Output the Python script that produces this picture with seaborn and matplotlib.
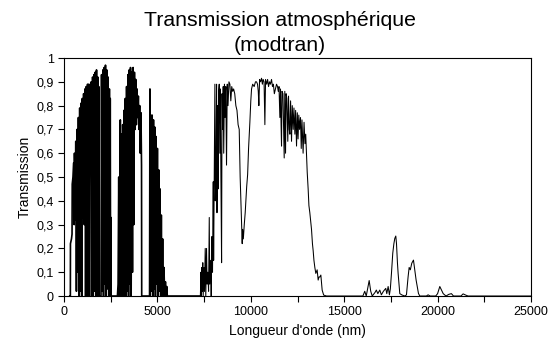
import numpy as np
import matplotlib
matplotlib.use("Agg")
import matplotlib.pyplot as plt
import seaborn as sns
import pandas as pd

# -----------------------------
# Data (wavelength in nm / transmission)
# -----------------------------
# UV - visible - near IR, up to the 1.9 um water band
nm_vnir = [300, 330, 340, 345, 400, 430, 440, 480, 520, 545,
           560, 595, 630, 665, 700, 735, 770, 805, 840, 875,
           910, 945, 980, 1015, 1050, 1085, 1120, 1155, 1190, 1225,
           1260, 1295, 1330, 1365, 1400, 1430, 1460, 1495, 1530, 1565,
           1600, 1635, 1670, 1705, 1740, 1775, 1810, 1840, 1860, 1880,
           1980]
t_vnir = [0.0, 0.0, 0.0, 0.22, 0.24, 0.26, 0.47, 0.50, 0.56, 0.30,
          0.60, 0.32, 0.65, 0.02, 0.70, 0.10, 0.75, 0.0, 0.79, 0.02,
          0.81, 0.0, 0.83, 0.33, 0.85, 0.30, 0.87, 0.0, 0.88, 0.0,
          0.89, 0.0, 0.89, 0.0, 0.86, 0.74, 0.90, 0.0, 0.92, 0.0,
          0.93, 0.02, 0.94, 0.0, 0.95, 0.0, 0.92, 0.0, 0.88, 0.0,
          0.0]

# 2.0 - 2.5 um window
nm_swir = [2010, 2045, 2080, 2115, 2150, 2185, 2220, 2255, 2290, 2325,
           2360, 2395, 2430, 2460, 2475, 2495, 2510, 2525, 2840]
t_swir = [0.93, 0.02, 0.95, 0.0, 0.96, 0.05, 0.97, 0.0, 0.95, 0.03,
          0.92, 0.0, 0.87, 0.0, 0.83, 0.0, 0.33, 0.0, 0.0]

# 3 - 4.2 um window
nm_mwir = [2860, 2895, 2930, 2965, 3000, 3015, 3035, 3070, 3105, 3140,
           3175, 3210, 3245, 3280, 3315, 3350, 3385, 3420, 3455, 3490,
           3525, 3560, 3595, 3630, 3665, 3700, 3735, 3770, 3805, 3840,
           3875, 3910, 3945, 3980, 4015, 4050, 4085, 4120, 4150, 4160,
           4580]
t_mwir = [0.0, 0.05, 0.50, 0.0, 0.66, 0.74, 0.0, 0.68, 0.0, 0.72,
          0.0, 0.78, 0.0, 0.83, 0.0, 0.88, 0.02, 0.93, 0.0, 0.95,
          0.05, 0.96, 0.0, 0.94, 0.10, 0.96, 0.30, 0.94, 0.70, 0.91,
          0.72, 0.87, 0.75, 0.84, 0.70, 0.80, 0.60, 0.77, 0.55, 0.0,
          0.0]

# 4.5 - 5.5 um
nm_co2 = [4600, 4620, 4650, 4685, 4720, 4755, 4790, 4825, 4860, 4895,
          4930, 4965, 5000, 5035, 5070, 5105, 5140, 5175, 5210, 5245,
          5280, 5315, 5350, 5390, 5430, 5470, 5500, 5530, 7280]
t_co2 = [0.87, 0.0, 0.76, 0.02, 0.76, 0.0, 0.74, 0.03, 0.71, 0.0,
         0.67, 0.05, 0.62, 0.0, 0.53, 0.02, 0.45, 0.0, 0.34, 0.0,
         0.24, 0.0, 0.12, 0.0, 0.06, 0.0, 0.04, 0.0, 0.0]

# 8 - 14 um thermal window
nm_lwir = [7300, 7330, 7350, 7380, 7400, 7430, 7450, 7500, 7520, 7560,
           7590, 7630, 7660, 7700, 7740, 7776, 7800, 7850, 7880, 7920,
           7950, 7990, 8010, 8050, 8078, 8100, 8140, 8167, 8190, 8220,
           8250, 8280, 8310, 8340, 8370, 8400, 8436, 8460, 8490, 8523,
           8550, 8590, 8620, 8660, 8700, 8740, 8780, 8830, 8880, 8930,
           8980, 9030, 9080, 9140, 9200, 9260, 9320, 9380, 9430, 9470,
           9505, 9540, 9560, 9600, 9650, 9700, 9780, 9830, 9880, 9950,
           10000, 10040, 10100, 10180, 10250, 10307, 10360, 10400, 10432, 10470,
           10520, 10575, 10620, 10660, 10710, 10753, 10790, 10850, 10900, 10950,
           11000, 11050, 11110, 11160, 11210, 11260, 11320, 11378, 11430, 11470,
           11510, 11556, 11590, 11620, 11645, 11670, 11720, 11760, 11788, 11820,
           11860, 11890, 11930, 11980, 12020, 12060, 12092, 12130, 12180, 12220,
           12270, 12310, 12360, 12400, 12448, 12490, 12530, 12570, 12610, 12660,
           12700, 12740, 12800, 12850, 12900, 12940, 12983, 13020, 13070, 13111,
           13160, 13210, 13250, 13300, 13339, 13380, 13428, 13481, 13552, 13606,
           13650, 13695, 13750, 13820, 13900, 14050]
t_lwir = [0.0, 0.10, 0.0, 0.12, 0.02, 0.14, 0.0, 0.12, 0.02, 0.20,
          0.0, 0.20, 0.05, 0.10, 0.02, 0.33, 0.05, 0.15, 0.0, 0.25,
          0.10, 0.48, 0.15, 0.60, 0.89, 0.40, 0.55, 0.89, 0.35, 0.80,
          0.45, 0.86, 0.89, 0.60, 0.87, 0.50, 0.14, 0.85, 0.70, 0.88,
          0.60, 0.89, 0.75, 0.88, 0.55, 0.89, 0.80, 0.90, 0.89, 0.82,
          0.88, 0.86, 0.87, 0.85, 0.80, 0.78, 0.72, 0.70, 0.50, 0.40,
          0.30, 0.22, 0.28, 0.24, 0.30, 0.35, 0.46, 0.51, 0.62, 0.73,
          0.82, 0.87, 0.89, 0.88, 0.90, 0.90, 0.89, 0.86, 0.80, 0.91,
          0.90, 0.915, 0.89, 0.91, 0.90, 0.72, 0.91, 0.89, 0.91, 0.88,
          0.90, 0.89, 0.91, 0.88, 0.89, 0.85, 0.87, 0.89, 0.88, 0.86,
          0.88, 0.75, 0.87, 0.72, 0.63, 0.86, 0.85, 0.70, 0.58, 0.86,
          0.60, 0.85, 0.83, 0.65, 0.84, 0.70, 0.68, 0.82, 0.65, 0.80,
          0.70, 0.79, 0.68, 0.78, 0.63, 0.77, 0.66, 0.76, 0.70, 0.75,
          0.62, 0.74, 0.60, 0.73, 0.64, 0.68, 0.59, 0.52, 0.45, 0.38,
          0.35, 0.31, 0.28, 0.22, 0.19, 0.15, 0.12, 0.095, 0.11, 0.067,
          0.08, 0.08, 0.088, 0.025, 0.004, 0.0]

# beyond 16 um
nm_far = [16000, 16100, 16180, 16250, 16337, 16420, 16500, 16650, 16720, 16800,
          16906, 16990, 17100, 17226, 17280, 17352, 17420, 17470, 17530, 17600,
          17660, 17708, 17762, 17800, 17850, 17887, 17976, 18100, 18250, 18333,
          18420, 18477, 18540, 18619, 18708, 18780, 18850, 18975, 19046, 19400,
          19493, 19600, 19900, 20000, 20118, 20300, 20450, 20600, 20740, 20850,
          21250, 21365, 21500, 21632, 25000]
t_far = [0.0, 0.02, 0.0, 0.03, 0.065, 0.02, 0.0, 0.015, 0.025, 0.01,
         0.025, 0.005, 0.02, 0.032, 0.01, 0.04, 0.005, 0.03, 0.095, 0.18,
         0.22, 0.242, 0.252, 0.22, 0.14, 0.095, 0.01, 0.004, 0.0, 0.005,
         0.08, 0.12, 0.11, 0.138, 0.151, 0.11, 0.067, 0.011, 0.0, 0.0,
         0.005, 0.0, 0.0, 0.01, 0.04, 0.01, 0.0, 0.007, 0.01, 0.0,
         0.0, 0.009, 0.004, 0.0, 0.0]

x_ticks = [0, 5000, 10000, 15000, 20000, 25000]
x_tick_labels = ["0", "5000", "10000", "15000", "20000", "25000"]
x_minor_ticks = [2500, 7500, 12500, 17500, 22500]
y_ticks = [0, 0.1, 0.2, 0.3, 0.4, 0.5, 0.6, 0.7, 0.8, 0.9, 1.0]
y_tick_labels = ["0", "0,1", "0,2", "0,3", "0,4", "0,5", "0,6", "0,7", "0,8", "0,9", "1"]

short_wave = [(nm_vnir, t_vnir), (nm_swir, t_swir), (nm_mwir, t_mwir), (nm_co2, t_co2)]
long_wave = [(nm_lwir, t_lwir), (nm_far, t_far)]
df_short = pd.DataFrame({
    "nm": np.concatenate([s[0] for s in short_wave]),
    "t": np.concatenate([s[1] for s in short_wave]),
})
df_long = pd.DataFrame({
    "nm": np.concatenate([s[0] for s in long_wave]),
    "t": np.concatenate([s[1] for s in long_wave]),
})

# -----------------------------
# Plot
# -----------------------------
sns.set_style("ticks")
plt.rcParams["font.family"] = ["Liberation Sans", "DejaVu Sans"]
plt.rcParams["text.color"] = "black"
plt.rcParams["axes.labelcolor"] = "black"

fig = plt.figure(figsize=(5.6, 3.54), dpi=100)
ax = fig.add_axes([0.1143, 0.1638, 0.8339, 0.6723])
# the dense absorption lines below 5.5 um merge into solid black in the original
sns.lineplot(data=df_short, x="nm", y="t", estimator=None, sort=False,
             color="black", linewidth=1.2, ax=ax)
sns.lineplot(data=df_long, x="nm", y="t", estimator=None, sort=False,
             color="black", linewidth=0.75, ax=ax)

ax.set_xlim(0, 25000)
ax.set_ylim(0, 1)
ax.set_xticks(x_ticks)
ax.set_xticklabels(x_tick_labels)
ax.set_xticks(x_minor_ticks, minor=True)
ax.set_yticks(y_ticks)
ax.set_yticklabels(y_tick_labels)
ax.tick_params(which="both", direction="out", length=4, width=0.8,
               color="black", labelsize=9, labelcolor="black")
for s in ax.spines.values():
    s.set_visible(True)
    s.set_color("black")
    s.set_linewidth(0.8)

ax.set_xlabel("Longueur d'onde (nm)", fontsize=10, labelpad=4)
ax.set_ylabel("Transmission", fontsize=10, labelpad=3)
fig.text(0.5, 0.968, "Transmission atmosphérique\n(modtran)",
         ha="center", va="top", fontsize=15.3, linespacing=1.35, color="black")

fig.savefig("out.png", dpi=100)
